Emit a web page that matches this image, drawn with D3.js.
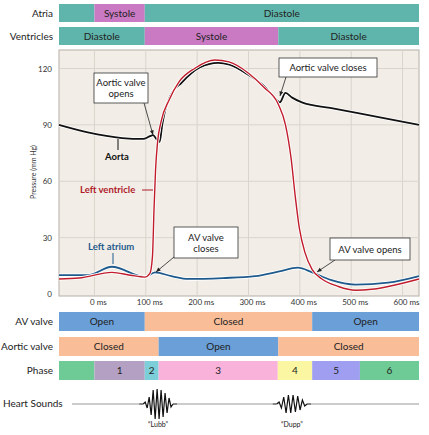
<!DOCTYPE html>
<html>
<head>
<meta charset="utf-8">
<script src="https://cdn.jsdelivr.net/npm/d3@7"></script>
<style>
  body { margin: 0; background: #fff; }
  text { font-family: Lato, "Open Sans", sans-serif; }
</style>
</head>
<body>
<div class="container"></div>
<script>
let width = 429
let height = 435

// pressure curves, [ms, mmHg]
let aorta = [[-69,90],[-13,86],[54,83],[95,82.5],[108,84],[114,84.5],[122,82],[127,81],[132,90],[137,97],[147,105],[170,112.5],[205,120.5],[241,123],[263,122],[303,116],[329,111],[356,103],[361,102],[372,107],[385,104.5],[404,102],[459,99],[556,94],[632,90]]
let ventricle = [[-69,8],[-30,8.5],[34,11.5],[70,10],[98,9],[108,11],[113,20],[116,45],[119,66],[123,81],[130,92],[145,103],[165,113],[195,120],[235,124.5],[262,123.5],[300,117.5],[330,110],[358,101],[372,90],[383,72],[391,52],[399,35],[410,22],[424,13],[443,8],[475,4],[508,2],[540,2.5],[572,4],[632,8]]
let atrium = [[-69,10],[-13,10],[34,14.5],[98,9],[118,11.5],[150,9.5],[183,8],[250,8.5],[313,9.5],[360,12],[396,14],[424,11.5],[460,7.5],[508,5],[572,6],[632,9.5]]

let yTicks = [0, 30, 60, 90, 120]
let xTicks = [0, 100, 200, 300, 400, 500, 600]

// bands: [start ms, end ms, label, colour]
let atriaBands = [[-69,0,"","#5fb5ab"],[0,98,"Systole","#c97ac2"],[98,632,"Diastole","#5fb5ab"]]
let ventricleBands = [[-69,98,"Diastole","#5fb5ab"],[98,358,"Systole","#c97ac2"],[358,632,"Diastole","#5fb5ab"]]
let avBands = [[-69,98,"Open","#6a9fd8"],[98,424,"Closed","#f9bd98"],[424,632,"Open","#6a9fd8"]]
let aorticBands = [[-69,125,"Closed","#f9bd98"],[125,358,"Open","#6a9fd8"],[358,632,"Closed","#f9bd98"]]
let phaseBands = [[-69,0,"","#6ecb95"],[0,98,"1","#b3a0c2"],[98,125,"2","#7ccfd8"],[125,357,"3","#f9b2da"],[357,424,"4","#fbf6a2"],[424,517,"5","#a09ef0"],[517,632,"6","#6ecb95"]]

// heart sound wiggles: amplitudes at evenly spaced times
let lubbTimes = [95, 153]
let lubb = [0,2,-4,7,-11,14,-15,15,-15,14,-13,11,-9,6,-3,0]
let duppTimes = [355, 414]
let dupp = [0,2,-4,7,-9,9,-9,9,-8,8,-6,4,-2,0]

let x = d3.scaleLinear().domain([-69, 632]).range([59, 419])
let y = d3.scaleLinear().domain([0, 120]).range([294, 68.5])

let svg = d3.select(".container")
  .append("svg")
  .attr("width", width)
  .attr("height", height)

function bandRow(data, y0, h, label) {
  let g = svg.append("g")
  g.selectAll("rect").data(data).enter().append("rect")
    .attr("x", function (d) { return x(d[0]) })
    .attr("width", function (d) { return x(d[1]) - x(d[0]) })
    .attr("y", y0).attr("height", h)
    .attr("fill", function (d) { return d[3] })
  g.selectAll("text").data(data).enter().append("text")
    .attr("x", function (d) { return (x(d[0]) + x(d[1])) / 2 })
    .attr("y", y0 + h / 2 + 3.5)
    .attr("text-anchor", "middle")
    .attr("font-size", "10px")
    .attr("fill", "#222")
    .text(function (d) { return d[2] })
  svg.append("text")
    .attr("x", 53).attr("y", y0 + h / 2 + 3.5)
    .attr("text-anchor", "end").attr("font-size", "10px").attr("fill", "#222")
    .text(label)
}

bandRow(atriaBands, 4, 18, "Atria")
bandRow(ventricleBands, 27, 18, "Ventricles")
bandRow(avBands, 312, 19, "AV valve")
bandRow(aorticBands, 337, 19, "Aortic valve")
bandRow(phaseBands, 361, 19, "Phase")

// plot area
svg.append("rect")
  .attr("x", 59).attr("y", 50).attr("width", 360).attr("height", 246)
  .attr("fill", "#f2eee7").attr("stroke", "#b5b0a8").attr("stroke-width", 1)

svg.append("g").selectAll("line").data(xTicks).enter().append("line")
  .attr("x1", function (d) { return x(d) }).attr("x2", function (d) { return x(d) })
  .attr("y1", 50).attr("y2", 296)
  .attr("stroke", "#d9d4cc")
svg.append("g").selectAll("line").data(yTicks.slice(1)).enter().append("line")
  .attr("x1", 59).attr("x2", 419)
  .attr("y1", function (d) { return y(d) }).attr("y2", function (d) { return y(d) })
  .attr("stroke", "#d9d4cc")

svg.append("g").selectAll("text").data(yTicks).enter().append("text")
  .attr("x", 52).attr("y", function (d) { return y(d) + 3 })
  .attr("text-anchor", "end").attr("font-size", "8px").attr("fill", "#333")
  .text(function (d) { return d })
svg.append("g").selectAll("text").data(xTicks).enter().append("text")
  .attr("x", function (d) { return x(d) + 4 }).attr("y", 305)
  .attr("text-anchor", "middle").attr("font-size", "8px").attr("fill", "#333")
  .text(function (d) { return d + " ms" })

svg.append("text")
  .attr("transform", "translate(36,172) rotate(-90)")
  .attr("text-anchor", "middle").attr("font-size", "7px").attr("fill", "#333")
  .text("Pressure (mm Hg)")

let line = d3.line()
  .x(function (d) { return x(d[0]) })
  .y(function (d) { return y(d[1]) })
  .curve(d3.curveMonotoneX)

svg.append("path").attr("d", line(atrium)).attr("fill", "none").attr("stroke", "#fff").attr("stroke-width", 3.5)
svg.append("path").attr("d", line(atrium)).attr("fill", "none").attr("stroke", "#1f5a8c").attr("stroke-width", 1.8)
svg.append("path").attr("d", line(aorta)).attr("fill", "none").attr("stroke", "#fff").attr("stroke-width", 3.5)
svg.append("path").attr("d", line(aorta)).attr("fill", "none").attr("stroke", "#111").attr("stroke-width", 1.8)
svg.append("path").attr("d", line(ventricle)).attr("fill", "none").attr("stroke", "#fff").attr("stroke-width", 3)
svg.append("path").attr("d", line(ventricle)).attr("fill", "none").attr("stroke", "#c01c2c").attr("stroke-width", 1.4)

// series labels
function seriesLabel(tx, ty, txt, col, l) {
  svg.append("text").attr("x", tx).attr("y", ty)
    .attr("font-size", "9.5px").attr("font-weight", "bold").attr("fill", col)
    .text(txt)
  svg.append("line").attr("x1", l[0]).attr("y1", l[1]).attr("x2", l[2]).attr("y2", l[3])
    .attr("stroke", col).attr("stroke-width", 1)
}
seriesLabel(105, 160, "Aorta", "#111", [118, 139, 118, 150])
seriesLabel(80, 193, "Left ventricle", "#b01a2a", [142, 190, 153, 190])
seriesLabel(88, 250, "Left atrium", "#1f5a8c", [113, 253, 113, 264])

// annotation boxes
function note(bx, by, bw, bh, lines, a) {
  svg.append("line").attr("x1", a[0]).attr("y1", a[1]).attr("x2", a[2]).attr("y2", a[3])
    .attr("stroke", "#222").attr("stroke-width", 0.8)
  let ang = Math.atan2(a[3] - a[1], a[2] - a[0])
  let p = [[a[2], a[3]],
    [a[2] - 5 * Math.cos(ang - 0.4), a[3] - 5 * Math.sin(ang - 0.4)],
    [a[2] - 5 * Math.cos(ang + 0.4), a[3] - 5 * Math.sin(ang + 0.4)]]
  svg.append("path").attr("d", "M" + p.join("L") + "Z").attr("fill", "#222")
  svg.append("rect").attr("x", bx).attr("y", by).attr("width", bw).attr("height", bh)
    .attr("fill", "#fff").attr("stroke", "#333").attr("stroke-width", 0.8)
  lines.forEach(function (t, i) {
    svg.append("text").attr("x", bx + bw / 2)
      .attr("y", by + bh / 2 + 3.5 + (i - (lines.length - 1) / 2) * 11)
      .attr("text-anchor", "middle").attr("font-size", "9.5px").attr("fill", "#222")
      .text(t)
  })
}
note(94, 73, 54, 30, ["Aortic valve", "opens"], [144, 103, 153, 135])
note(279, 58, 98, 19, ["Aortic valve closes"], [286, 77, 280, 96])
note(174, 227, 64, 31, ["AV valve", "closes"], [174, 257, 156, 272])
note(330, 238, 80, 22, ["AV valve opens"], [335, 260, 317, 272])

// heart sounds
svg.append("text").attr("x", 3).attr("y", 407).attr("font-size", "10px").attr("fill", "#222").text("Heart Sounds")
let s = d3.scaleLinear().domain([-15, 15]).range([419, 389])
svg.append("line").attr("x1", 72).attr("x2", 419).attr("y1", 404).attr("y2", 404)
  .attr("stroke", "#999").attr("stroke-width", 1.2)
function sound(times, amps, label) {
  let t = d3.scaleLinear().domain([0, amps.length - 1]).range(times)
  let w = d3.line().x(function (d, i) { return x(t(i)) }).y(function (d) { return s(d) })
  svg.append("line").attr("x1", x(times[0]) - 4).attr("x2", x(times[1]) + 4)
    .attr("y1", 404).attr("y2", 404).attr("stroke", "#fff").attr("stroke-width", 3)
  svg.append("path").attr("d", w(amps)).attr("fill", "none").attr("stroke", "#111").attr("stroke-width", 1.2)
  svg.append("line").attr("x1", x(times[0]) - 4).attr("x2", x(times[0]))
    .attr("y1", 404).attr("y2", 404).attr("stroke", "#111")
  svg.append("line").attr("x1", x(times[1])).attr("x2", x(times[1]) + 4)
    .attr("y1", 404).attr("y2", 404).attr("stroke", "#111")
  svg.append("text").attr("x", x((times[0] + times[1]) / 2)).attr("y", 427)
    .attr("text-anchor", "middle").attr("font-size", "7px").attr("fill", "#222").text(label)
}
sound(lubbTimes, lubb, "\u201cLubb\u201d")
sound(duppTimes, dupp, "\u201cDupp\u201d")
</script>
</body>
</html>
